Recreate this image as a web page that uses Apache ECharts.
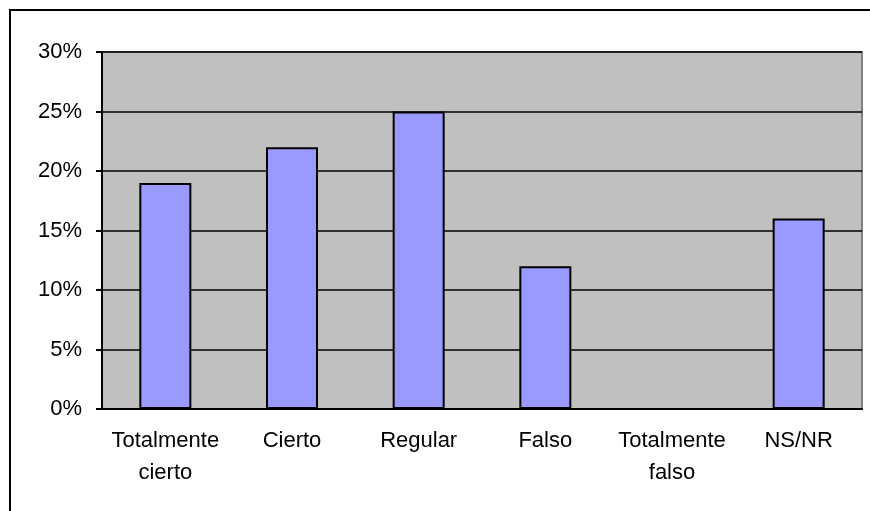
<!DOCTYPE html>
<html>
<head>
<meta charset="utf-8">
<script src="https://cdn.jsdelivr.net/npm/echarts@6/dist/echarts.min.js"></script>
<style>
  html, body { margin: 0; padding: 0; background: #fff; }
  #chart { width: 870px; height: 511px; }
</style>
</head>
<body>
<div id="chart"></div>
<script>
// categories and values (percent)
const categories = ["Totalmente\ncierto", "Cierto", "Regular", "Falso", "Totalmente\nfalso", "NS/NR"];
const values = [19, 22, 25, 12, 0, 16];
const yTicks = [0, 5, 10, 15, 20, 25, 30];

const chart = echarts.init(document.getElementById("chart"));
chart.setOption({
  animation: false,
  textStyle: { fontFamily: "Liberation Sans, Arial, sans-serif" },
  graphic: [
    {
      type: "rect",
      shape: { x: 10, y: 10, width: 900, height: 600 },
      style: { fill: null, stroke: "#000", lineWidth: 2 },
      z: 100,
      silent: true,
    },
  ],
  grid: {
    left: 102,
    top: 52,
    right: 8,
    bottom: 102,
    show: true,
    backgroundColor: "#C0C0C0",
    borderColor: "#808080",
    borderWidth: 2,
  },
  xAxis: {
    type: "category",
    data: categories,
    axisLine: { lineStyle: { color: "#000", width: 2 } },
    axisTick: { length: 6, lineStyle: { color: "#000", width: 2 } },
    axisLabel: {
      color: "#000",
      fontSize: 22,
      lineHeight: 32,
      margin: 16,
      interval: 0,
    },
  },
  yAxis: {
    type: "value",
    min: 0,
    max: 30,
    interval: 5,
    axisLine: { show: true, lineStyle: { color: "#000", width: 2 } },
    axisTick: { show: true, length: 6, lineStyle: { color: "#000", width: 2 } },
    axisLabel: {
      color: "#000",
      fontSize: 22,
      margin: 20,
      formatter: (v) => (yTicks.includes(v) ? v + "%" : ""),
    },
    splitLine: { lineStyle: { color: "#000", width: 1.5 } },
  },
  series: [
    {
      type: "bar",
      data: values,
      barWidth: 52,
      itemStyle: {
        color: "#9999FF",
        borderColor: "#000",
        borderWidth: 2,
      },
    },
  ],
});
</script>
</body>
</html>
